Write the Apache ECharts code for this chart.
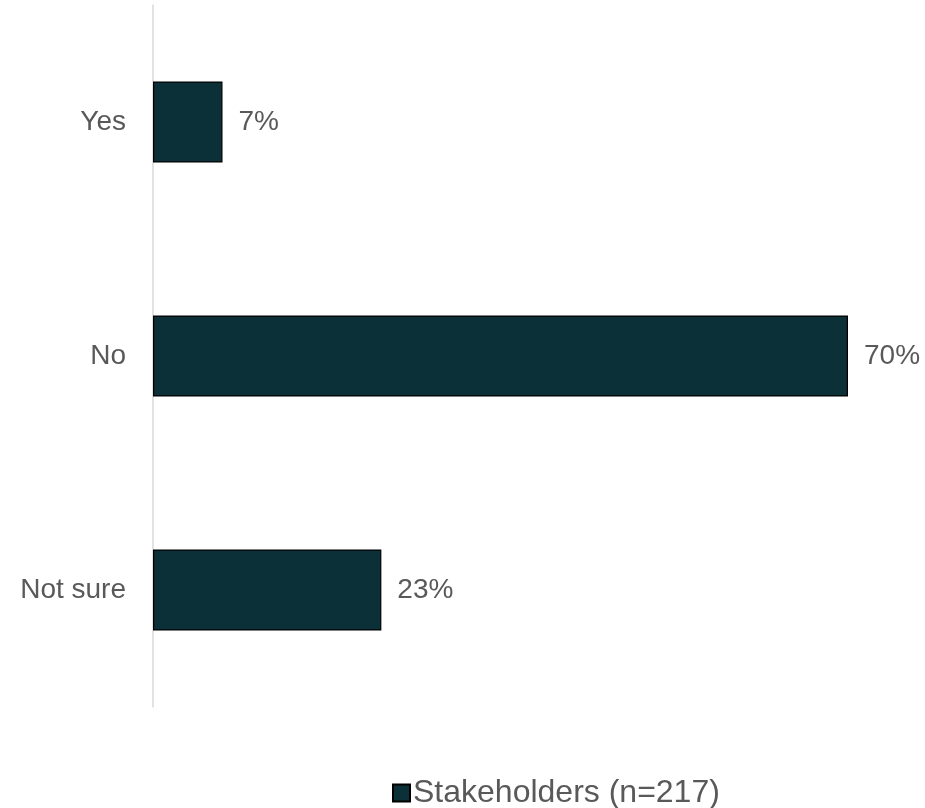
<!DOCTYPE html>
<html>
<head>
<meta charset="utf-8">
<style>
  html, body { margin: 0; padding: 0; background: #ffffff; }
  #chart { width: 925px; height: 808px; }
</style>
<script src="https://cdn.jsdelivr.net/npm/echarts@6/dist/echarts.min.js"></script>
</head>
<body>
<div id="chart"></div>
<script>
// Survey responses, percent of stakeholders
const categories = ['Yes', 'No', 'Not sure'];
const shares = [7, 70, 23];
const seriesName = 'Stakeholders (n=217)';

const FONT = '"Liberation Sans", Arial, sans-serif';
const TEXT = '#595959';
const BAR = '#0b3038';

const chart = echarts.init(document.getElementById('chart'), null, { renderer: 'canvas' });

chart.setOption({
  animation: false,
  backgroundColor: '#ffffff',
  grid: { left: 153, right: 77, top: 5, bottom: 101, containLabel: false },
  legend: {
    data: [seriesName],
    top: 772,
    left: 387,
    itemWidth: 17,
    itemHeight: 17,
    itemGap: 10,
    icon: 'rect',
    textStyle: { color: TEXT, fontSize: 32, fontFamily: FONT, padding: [0, 0, 0, -2] }
  },
  xAxis: {
    type: 'value',
    min: 0,
    max: 70,
    show: false
  },
  yAxis: {
    type: 'category',
    data: categories,
    inverse: true,
    axisLine: { show: true, lineStyle: { color: '#d9d9d9', width: 1.5 } },
    axisTick: { show: false },
    axisLabel: { color: TEXT, fontSize: 28, fontFamily: FONT, margin: 27 },
    splitLine: { show: false }
  },
  series: [{
    name: seriesName,
    type: 'bar',
    data: shares,
    barWidth: 81,
    itemStyle: { color: BAR, borderColor: '#000000', borderWidth: 1.2 },
    label: {
      show: true,
      position: 'right',
      distance: 16,
      formatter: '{c}%',
      color: TEXT,
      fontSize: 28,
      fontFamily: FONT
    }
  }]
});
</script>
</body>
</html>
